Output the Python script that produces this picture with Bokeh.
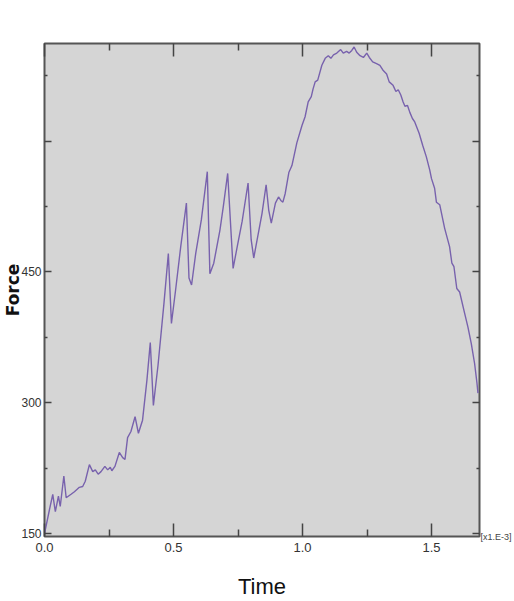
from bokeh.plotting import figure
from bokeh.models import Range1d, LinearAxis, FixedTicker, PrintfTickFormatter, ColumnDataSource
from bokeh.embed import file_html
from bokeh.resources import INLINE

# Time in units of 1e-3 (as on the axis), force values
time_ms = [0.000, 0.019, 0.032, 0.042, 0.054, 0.061, 0.075, 0.084, 0.103, 0.116,
           0.135, 0.148, 0.158, 0.174, 0.187, 0.197, 0.208, 0.219, 0.234, 0.245,
           0.255, 0.261, 0.273, 0.290, 0.303, 0.312, 0.322, 0.335, 0.351, 0.364,
           0.380, 0.397, 0.410, 0.422, 0.440, 0.463, 0.480, 0.492, 0.508, 0.528,
           0.550, 0.560, 0.570, 0.586, 0.608, 0.631, 0.641, 0.656, 0.680, 0.693,
           0.710, 0.731, 0.747, 0.766, 0.789, 0.801, 0.811, 0.826, 0.843, 0.859,
           0.869, 0.879, 0.895, 0.907, 0.916, 0.924, 0.933, 0.947, 0.959, 0.978,
           0.998, 1.010, 1.022, 1.034, 1.041, 1.049, 1.059, 1.075, 1.088, 1.100,
           1.110, 1.120, 1.133, 1.148, 1.158, 1.171, 1.181, 1.191, 1.200, 1.210,
           1.223, 1.236, 1.249, 1.259, 1.272, 1.287, 1.300, 1.313, 1.326, 1.336,
           1.351, 1.362, 1.371, 1.381, 1.390, 1.397, 1.407, 1.416, 1.426, 1.435,
           1.452, 1.466, 1.480, 1.493, 1.500, 1.512, 1.519, 1.532, 1.551, 1.570,
           1.579, 1.587, 1.598, 1.609, 1.628, 1.641, 1.654, 1.667, 1.676, 1.680]

force = [150, 177, 195, 175, 193, 181, 216, 191, 195, 198,
         203, 204, 210, 229, 221, 223, 218, 221, 227, 223,
         226, 222, 227, 243, 237, 235, 260, 267, 284, 265,
         280, 326, 369, 297, 343, 414, 471, 391, 429, 479,
         529, 443, 435, 471, 510, 565, 448, 460, 498, 525,
         563, 454, 479, 508, 552, 487, 466, 490, 517, 550,
         521, 506, 529, 536, 532, 530, 540, 564, 572, 598,
         618, 628, 645, 651, 660, 668, 670, 687, 695, 698,
         695, 699, 701, 705, 701, 703, 701, 704, 708, 702,
         698, 696, 701, 696, 691, 689, 687, 681, 677, 668,
         664, 657, 659, 653, 645, 640, 641, 633, 626, 622,
         609, 595, 582, 567, 557, 546, 530, 527, 500, 479,
         460, 456, 431, 427, 403, 387, 368, 345, 323, 311]

assert len(time_ms) == len(force)

x_major = [0.0, 0.5, 1.0, 1.5]
x_minor = [0.25, 0.75, 1.25]
y_major = [150, 300, 450, 600]
y_minor = [225, 375, 525, 675]
y_labels = {150: "150", 300: "300", 450: "450", 600: ""}

x_title = "Time"
y_title = "Force"
x_unit = "[x1.E-3]"

SANS = "Liberation Sans"

p = figure(width=514, height=601, output_backend="svg", toolbar_location=None,
           x_range=Range1d(0, 1.686), y_range=Range1d(146.6, 712),
           min_border_left=43, min_border_right=34, min_border_top=43, min_border_bottom=64)

p.background_fill_color = "#d5d5d5"
p.border_fill_color = "white"
p.outline_line_color = "#555555"
p.outline_line_width = 2
p.xgrid.visible = False
p.ygrid.visible = False

src = ColumnDataSource(dict(t=time_ms, f=force))
p.line("t", "f", source=src, line_color="#7862ad", line_width=1.4)

def style(ax, label_size):
    ax.axis_line_color = None
    ax.major_tick_line_color = "#444444"
    ax.minor_tick_line_color = "#444444"
    ax.major_tick_line_width = 1.5
    ax.minor_tick_line_width = 1.5
    ax.major_tick_out = 0
    ax.minor_tick_out = 0
    ax.major_label_text_font = SANS
    ax.major_label_text_font_size = label_size
    ax.major_label_text_color = "#333333"

# bottom
xa = p.xaxis[0]
xa.ticker = FixedTicker(ticks=x_major, minor_ticks=x_minor)
xa.formatter = PrintfTickFormatter(format="%.1f")
style(xa, "13px")
xa.major_tick_in = 13
xa.minor_tick_in = 7
xa.major_label_standoff = 6
xa.axis_label = x_title
xa.axis_label_text_font = SANS
xa.axis_label_text_font_style = "normal"
xa.axis_label_text_font_size = "22px"
xa.axis_label_text_color = "#111111"
xa.axis_label_standoff = 19

# left
ya = p.yaxis[0]
ya.ticker = FixedTicker(ticks=y_major, minor_ticks=y_minor)
ya.major_label_overrides = y_labels
style(ya, "12px")
ya.major_tick_in = 7
ya.minor_tick_in = 3
ya.major_label_standoff = 3
ya.axis_label = y_title
ya.axis_label_text_font = "DejaVu Sans"
ya.axis_label_text_font_style = "bold"
ya.axis_label_text_font_size = "17px"
ya.axis_label_text_color = "#111111"
ya.axis_label_standoff = -5

# top
ta = LinearAxis(ticker=FixedTicker(ticks=x_major, minor_ticks=x_minor))
style(ta, "0px")
ta.major_tick_in = 13
ta.minor_tick_in = 7
ta.major_label_standoff = 0
ta.major_label_text_alpha = 0
p.add_layout(ta, "above")

# right (also carries the time-unit note at its lower end)
ra = LinearAxis(ticker=FixedTicker(ticks=y_major, minor_ticks=y_minor))
style(ra, "0px")
ra.major_tick_in = 7
ra.minor_tick_in = 3
ra.major_label_standoff = 0
ra.major_label_text_alpha = 0
ra.axis_label = x_unit
ra.axis_label_align = "start"
ra.axis_label_orientation = "horizontal"
ra.axis_label_standoff = 1
ra.axis_label_text_font = SANS
ra.axis_label_text_font_style = "normal"
ra.axis_label_text_font_size = "9px"
ra.axis_label_text_color = "#444444"
ra.axis_label_text_baseline = "top"
p.add_layout(ra, "right")

open("out.html", "w").write(file_html(p, INLINE))
